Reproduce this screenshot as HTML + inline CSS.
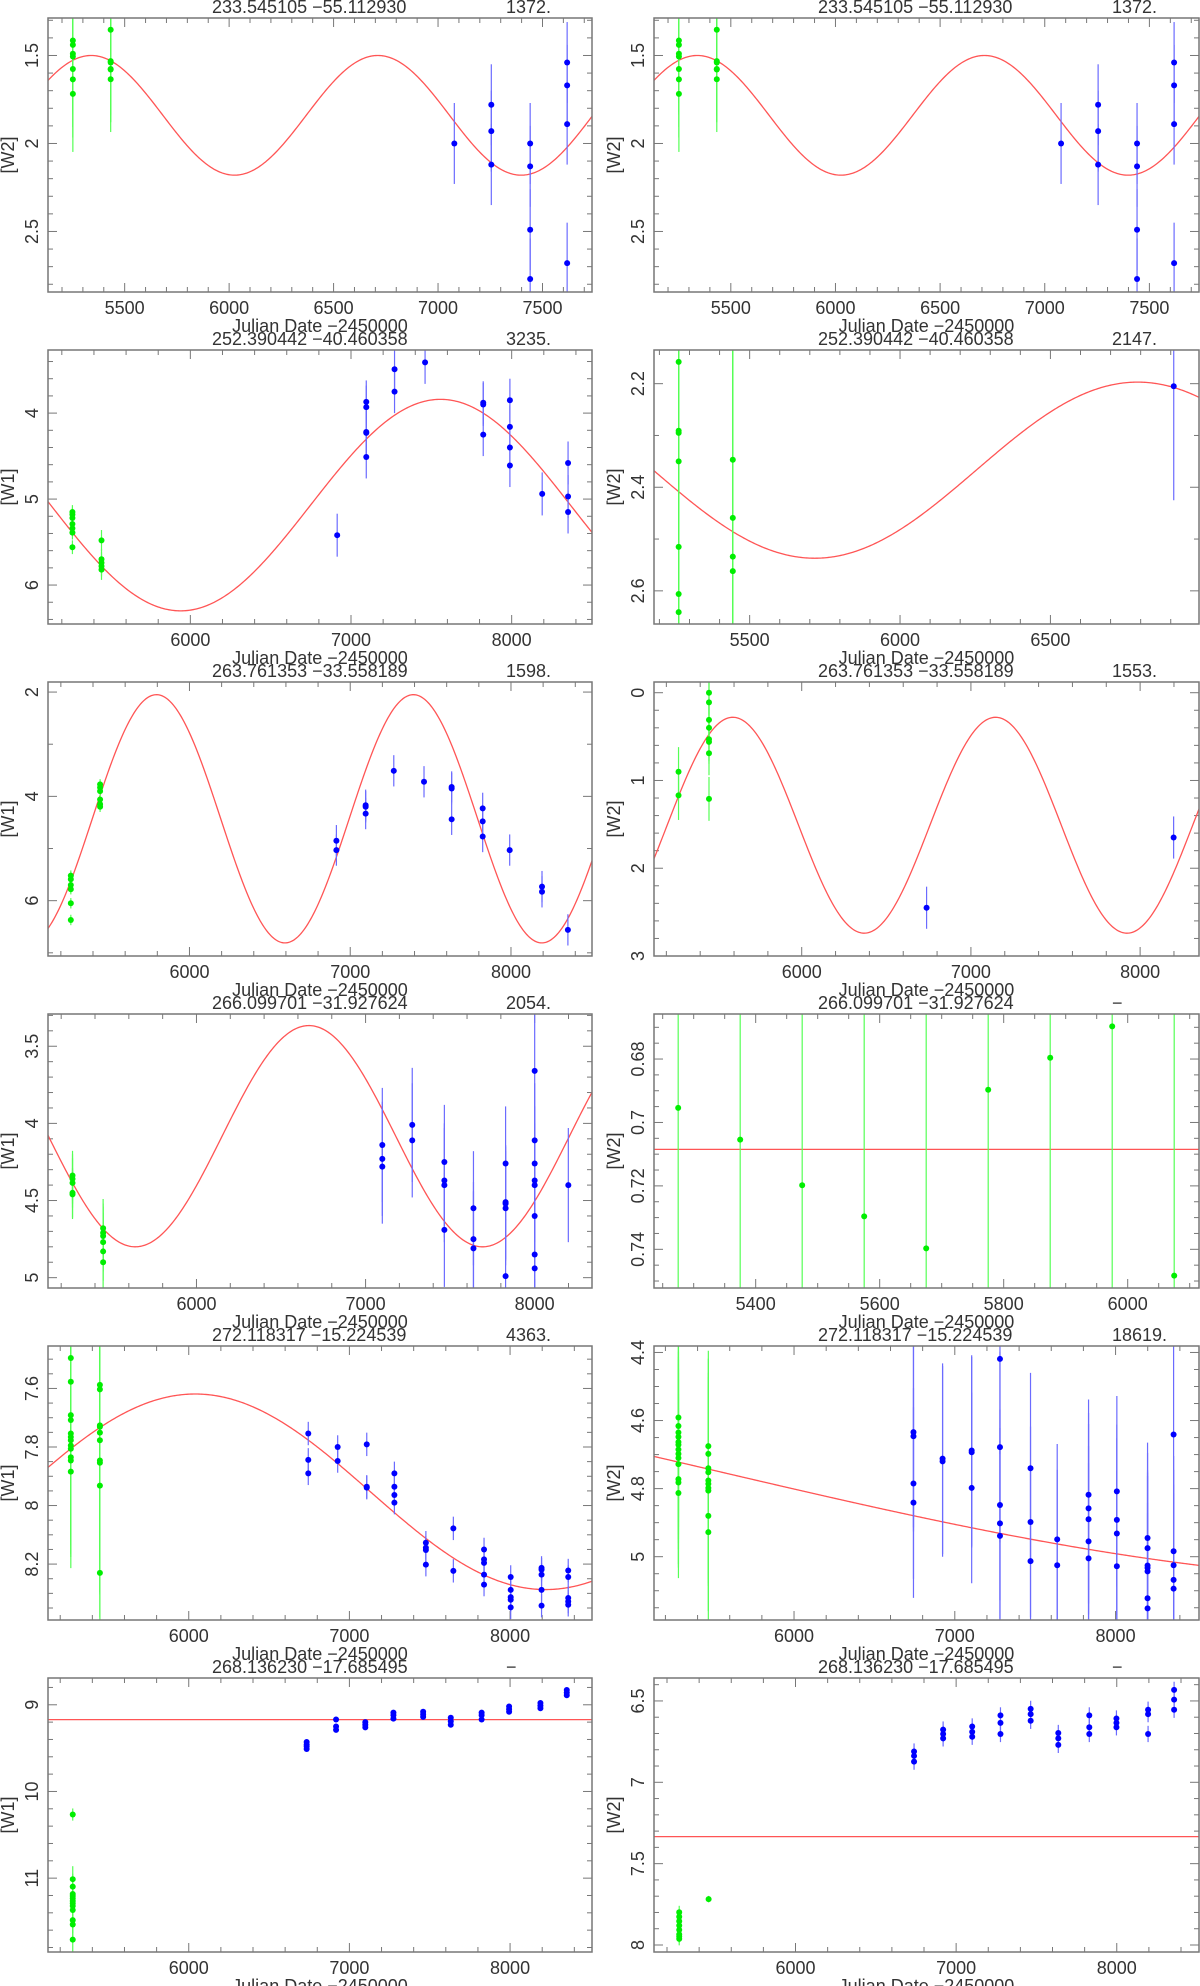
<!DOCTYPE html>
<html><head><meta charset="utf-8">
<style>
html,body{margin:0;padding:0;background:#fff;}
svg{display:block;}
text{font-family:"Liberation Sans","DejaVu Sans",sans-serif;fill:#333;}
</style></head>
<body>
<svg id="chart" width="1200" height="1986" viewBox="0 0 1200 1986" xmlns="http://www.w3.org/2000/svg"></svg>
<script>
// ---------- data (one entry per panel, 12 panels, row-major) ----------
const titleCoords = ["233.545105  \u221255.112930","233.545105  \u221255.112930","252.390442  \u221240.460358","252.390442  \u221240.460358","263.761353  \u221233.558189","263.761353  \u221233.558189","266.099701  \u221231.927624","266.099701  \u221231.927624","272.118317  \u221215.224539","272.118317  \u221215.224539","268.136230  \u221217.685495","268.136230  \u221217.685495"];
const titlePeriod = ["1372.","1372.","3235.","2147.","1598.","1553.","2054.","\u2212","4363.","18619.","\u2212","\u2212"];
const yLabels = ["[W2]","[W2]","[W1]","[W2]","[W1]","[W2]","[W1]","[W2]","[W1]","[W2]","[W1]","[W2]"];
// fitted model: mag = mean - amp*cos(2*pi*(jd - peak)/period)
const fitPeriod = [1372,1372,3235,2147,1598,1553,2054,1,4363,18619,1,1];
const fitMean = [1.84,1.84,5.07,2.367,4.43,1.51,4.083,0.7085,7.953,4.748,9.171,7.334];
const fitAmp = [0.34,0.34,1.23,0.17,2.38,1.23,0.717,0,0.334,0.327,0,0];
const fitPeak = [5340,5340,7557,6790,5795,5593,6665,0,6040,861,0,0];
// axis ranges
const xMin = [5133,5133,5114,5182,5120,5127,5122,5236,5124,5129,5124,5119];
const xMax = [7737,7737,8500,6994,8504,8348,8339,6115,8510,8519,8510,8512];
const yTop = [1.287,1.287,3.266,2.135,1.807,-0.122,3.291,0.6658,7.455,4.381,8.691,6.359];
const yBottom = [2.844,2.844,6.453,2.664,7.061,3.0,5.067,0.7522,8.391,5.186,11.852,8.043];
const xMajor = [500,500,1000,500,1000,1000,1000,200,1000,1000,1000,1000];
const xMinor = [100,100,200,100,200,200,200,50,200,200,200,200];
const yMajor = [0.5,0.5,1,0.2,2,1,0.5,0.02,0.2,0.2,1,0.5];
const yMinor = [0.1,0.1,0.2,0.1,1,0.2,0.1,0.005,0.05,0.05,0.2,0.1];

// green (early epoch) points
const greenJd = [
 [5252,5252,5252,5252,5252,5252,5252,5433,5433,5433,5433,5433,5433],
 [5252,5252,5252,5252,5252,5252,5252,5433,5433,5433,5433,5433,5433],
 [5266,5266,5266,5266,5266,5266,5266,5447,5447,5447,5447,5447],
 [5264,5264,5264,5264,5264,5264,5264,5444,5444,5444,5444],
 [5262,5262,5262,5262,5262,5262,5444,5444,5444,5444,5444,5444],
 [5272,5272,5452,5452,5452,5452,5452,5452,5452,5452],
 [5267,5267,5267,5267,5267,5448,5448,5448,5448,5448,5448],
 [5275,5375,5475,5575,5675,5775,5875,5975,6075],
 [5266,5266,5266,5266,5266,5266,5266,5266,5266,5266,5266,5266,5447,5447,5447,5447,5447,5447,5447,5447,5447,5447],
 [5281,5281,5281,5281,5281,5281,5281,5281,5281,5281,5281,5281,5281,5467,5467,5467,5467,5467,5467,5467,5467,5467,5467],
 [5278,5278,5278,5278,5278,5278,5278,5278,5278,5278,5278,5278,5278],
 [5276,5276,5276,5276,5276,5276,5276,5276,5459]
];
const greenMag = [
 [1.415,1.44,1.49,1.506,1.577,1.636,1.718,1.354,1.532,1.54,1.577,1.58,1.635],
 [1.415,1.44,1.49,1.506,1.577,1.636,1.718,1.354,1.532,1.54,1.577,1.58,1.635],
 [5.15,5.18,5.22,5.29,5.34,5.39,5.56,5.48,5.70,5.74,5.78,5.82],
 [2.158,2.291,2.295,2.35,2.515,2.606,2.641,2.347,2.459,2.534,2.562],
 [5.52,5.59,5.70,5.78,6.05,6.37,3.77,3.83,3.90,4.06,4.15,4.20],
 [0.90,1.17,0.0,0.11,0.31,0.40,0.53,0.56,0.69,1.21],
 [4.338,4.36,4.386,4.45,4.46,4.68,4.71,4.73,4.77,4.83,4.90],
 [0.6954,0.7054,0.7198,0.7296,0.7397,0.6897,0.6796,0.6697,0.7483],
 [7.496,7.577,7.691,7.708,7.754,7.766,7.777,7.795,7.806,7.835,7.846,7.884,7.588,7.603,7.726,7.731,7.751,7.777,7.846,7.854,7.932,8.230],
 [4.591,4.616,4.635,4.648,4.663,4.671,4.685,4.698,4.71,4.728,4.772,4.782,4.813,4.675,4.698,4.74,4.752,4.776,4.786,4.798,4.806,4.88,4.928],
 [10.266,11.012,11.098,11.183,11.206,11.233,11.264,11.291,11.322,11.368,11.484,11.535,11.709],
 [7.799,7.826,7.853,7.88,7.907,7.935,7.948,7.962,7.718]
];
const greenErr = [
 [0.33,0.33,0.33,0.33,0.33,0.33,0.33,0.3,0.3,0.3,0.3,0.3,0.3],
 [0.33,0.33,0.33,0.33,0.33,0.33,0.33,0.3,0.3,0.3,0.3,0.3,0.3],
 [0.08,0.08,0.08,0.08,0.08,0.08,0.08,0.12,0.12,0.12,0.12,0.12],
 [0.5,0.5,0.5,0.5,0.5,0.5,0.5,0.5,0.5,0.5,0.5],
 [0.1,0.1,0.1,0.1,0.1,0.1,0.1,0.1,0.1,0.1,0.1,0.1],
 [0.28,0.28,0.25,0.25,0.25,0.25,0.25,0.25,0.25,0.25],
 [0.16,0.16,0.16,0.16,0.16,0.19,0.19,0.19,0.19,0.19,0.19],
 [0.1,0.1,0.1,0.1,0.1,0.1,0.1,0.1,0.1],
 [0.33,0.33,0.33,0.33,0.33,0.33,0.33,0.33,0.33,0.33,0.33,0.33,0.45,0.45,0.45,0.45,0.45,0.45,0.45,0.45,0.45,0.45],
 [0.25,0.25,0.25,0.25,0.25,0.25,0.25,0.25,0.25,0.25,0.25,0.25,0.25,0.28,0.28,0.28,0.28,0.28,0.28,0.28,0.28,0.28,0.28],
 [0.07,0.15,0.15,0.15,0.15,0.15,0.15,0.15,0.15,0.15,0.15,0.15,0.15],
 [0.04,0.04,0.04,0.04,0.04,0.04,0.04,0.04,0.02]
];
// blue (later epoch) points
const blueJd = [
 [7078,7255,7255,7255,7441,7441,7441,7441,7618,7618,7618,7618],
 [7078,7255,7255,7255,7441,7441,7441,7441,7618,7618,7618,7618],
 [6914,7095,7095,7095,7095,7095,7271,7271,7461,7823,7823,7823,7989,7989,7989,7989,8190,8351,8351,8351],
 [6910],
 [6914,6914,7096,7096,7096,7271,7459,7631,7631,7631,7824,7824,7824,7992,8193,8193,8354],
 [6738,8198],
 [7099,7099,7099,7276,7276,7466,7466,7466,7466,7638,7638,7638,7828,7828,7828,7828,7828,8000,8000,8000,8000,8000,8000,8000,8000,8199],
 [],
 [6744,6744,6744,6927,6927,7108,7108,7108,7280,7280,7280,7280,7476,7476,7476,7476,7647,7647,7838,7838,7838,7838,7838,8004,8004,8004,8004,8004,8196,8196,8196,8196,8196,8362,8362,8362,8362,8362],
 [6743,6743,6743,6743,6924,6924,7105,7105,7105,7281,7281,7281,7281,7281,7471,7471,7471,7637,7637,7832,7832,7832,7832,7832,8008,8008,8008,8008,8199,8199,8199,8199,8199,8199,8199,8361,8361,8361,8361,8361],
 [6734,6734,6734,6734,6917,6917,6917,7099,7099,7099,7274,7274,7274,7459,7459,7459,7631,7631,7631,7823,7823,7823,7994,7994,7994,8189,8189,8189,8353,8353,8353],
 [6738,6738,6738,6919,6919,6919,7100,7100,7100,7276,7276,7276,7464,7464,7464,7636,7636,7636,7829,7829,7829,7998,7998,7998,8195,8195,8195,8357,8357,8357]
];
const blueMag = [
 [2.0,1.78,1.93,2.12,2.0,2.13,2.49,2.77,1.54,1.67,1.89,2.68],
 [2.0,1.78,1.93,2.12,2.0,2.13,2.49,2.77,1.54,1.67,1.89,2.68],
 [5.42,3.87,3.93,4.22,4.23,4.51,3.49,3.75,3.41,3.88,3.90,4.25,3.85,4.16,4.40,4.61,4.94,4.58,4.97,5.15],
 [2.205],
 [4.85,5.03,4.17,4.20,4.33,3.51,3.72,3.82,3.85,4.44,4.23,4.48,4.77,5.03,5.73,5.83,6.56],
 [2.45,1.65],
 [4.14,4.23,4.28,4.01,4.11,4.25,4.37,4.40,4.69,4.55,4.75,4.81,4.26,4.51,4.52,4.55,4.99,3.66,4.11,4.26,4.37,4.40,4.60,4.85,4.94,4.40],
 [],
 [7.754,7.844,7.890,7.800,7.848,7.791,7.936,7.939,7.890,7.936,7.964,7.990,8.127,8.144,8.152,8.202,8.078,8.223,8.150,8.184,8.196,8.236,8.270,8.244,8.288,8.313,8.322,8.348,8.213,8.219,8.236,8.288,8.342,8.222,8.244,8.316,8.328,8.339],
 [4.634,4.646,4.785,4.841,4.712,4.72,4.688,4.693,4.798,4.419,4.678,4.848,4.902,4.939,4.74,4.898,5.013,4.949,5.025,4.818,4.858,4.89,4.955,5.005,4.808,4.892,4.932,5.028,4.945,4.975,5.026,5.033,5.043,5.122,5.152,4.641,4.984,5.025,5.068,5.094],
 [9.43,9.46,9.48,9.51,9.17,9.25,9.29,9.20,9.23,9.26,9.09,9.12,9.16,9.08,9.11,9.14,9.15,9.19,9.23,9.09,9.12,9.17,9.02,9.05,9.08,8.98,9.01,9.04,8.83,8.86,8.89],
 [6.811,6.838,6.873,6.676,6.703,6.73,6.657,6.69,6.72,6.589,6.635,6.703,6.549,6.581,6.622,6.697,6.73,6.77,6.589,6.662,6.703,6.608,6.635,6.662,6.554,6.581,6.703,6.432,6.492,6.554]
];
const blueErrGroup = [0.23,0.23,0.25,0.22,0.3,0.24,0.37,0,0.04,0.28,0.03,0.05];
</script>
<script>
const svg = document.getElementById('chart');
const NS = 'http://www.w3.org/2000/svg';
function mk(tag, attrs, parent){
  const e = document.createElementNS(NS, tag);
  for (const k in attrs) e.setAttribute(k, attrs[k]);
  (parent||svg).appendChild(e);
  return e;
}
function fmt(v){ return String(Number(v.toFixed(4))); }
const H = 274;
const panelLeft = [48, 654];
const panelWidth = [544, 545];

for (let p = 0; p < 12; p++) {
  const col = p % 2, row = Math.floor(p / 2);
  const L = panelLeft[col], W = panelWidth[col], T = 18 + 332 * row;
  const g = mk('g', {});
  
  
  const sx = x => L + (x - xMin[p]) / (xMax[p] - xMin[p]) * W;
  const sy = y => T + (y - yTop[p]) / (yBottom[p] - yTop[p]) * H;

  const clipId = 'clip' + p;
  const cp = mk('clipPath', {id: clipId}, g);
  mk('rect', {x: L, y: T, width: W, height: H}, cp);

  const tg = mk('g', {stroke: '#777', 'stroke-width': 1}, g);
  
  
  const x0 = Math.ceil(xMin[p] / xMinor[p]) * xMinor[p];
  for (let v = x0; v <= xMax[p] + 1e-9; v += xMinor[p]) {
    const major = Math.abs(v / xMajor[p] - Math.round(v / xMajor[p])) < 1e-6;
    const len = major ? 9 : 5, X = sx(v);
    mk('line', {x1: X, x2: X, y1: T + H, y2: T + H - len}, tg);
    mk('line', {x1: X, x2: X, y1: T, y2: T + len}, tg);
    if (major) {
      const t = mk('text', {x: X, y: T + H + 22, 'text-anchor': 'middle', 'font-size': 18}, g);
      t.textContent = fmt(v);
      
      
    }
  }
  const y0 = Math.ceil(yTop[p] / yMinor[p] - 1e-6) * yMinor[p];
  for (let v = y0; v <= yBottom[p] + 1e-9; v += yMinor[p]) {
    const major = Math.abs(v / yMajor[p] - Math.round(v / yMajor[p])) < 1e-6;
    const len = major ? 9 : 5, Y = sy(v);
    mk('line', {x1: L, x2: L + len, y1: Y, y2: Y}, tg);
    mk('line', {x1: L + W, x2: L + W - len, y1: Y, y2: Y}, tg);
    if (major) {
      const t = mk('text', {x: L - 10, y: Y, 'text-anchor': 'middle', 'font-size': 18,
        transform: 'rotate(-90 ' + (L - 10) + ' ' + Y + ')'}, g);
      t.textContent = fmt(Math.round(v / yMajor[p]) * yMajor[p]);
      
      
    }
  }

  const plot = mk('g', {'clip-path': 'url(#' + clipId + ')'}, g);
  
  

  let d = '';
  for (let i = 0; i <= 400; i++) {
    const x = xMin[p] + (xMax[p] - xMin[p]) * i / 400;
    const m = fitMean[p] - fitAmp[p] * Math.cos(2 * Math.PI * (x - fitPeak[p]) / fitPeriod[p]);
    d += (i ? 'L' : 'M') + sx(x).toFixed(2) + ' ' + sy(m).toFixed(2);
  }
  const fit = mk('path', {d: d, fill: 'none', stroke: '#ff5555', 'stroke-width': 1.3}, plot);
  
  

  for (let i = 0; i < greenJd[p].length; i++) {
    const X = sx(greenJd[p][i]);
    const eb = mk('line', {x1: X, x2: X, y1: sy(greenMag[p][i] - greenErr[p][i]), y2: sy(greenMag[p][i] + greenErr[p][i]), stroke: '#55ff55', 'stroke-width': 1.2}, plot);
    
    
  }
  for (let i = 0; i < greenJd[p].length; i++) {
    const c = mk('circle', {cx: sx(greenJd[p][i]), cy: sy(greenMag[p][i]), r: 3, fill: '#00ee00'}, plot);
    
    
  }
  for (let i = 0; i < blueJd[p].length; i++) {
    const X = sx(blueJd[p][i]);
    const eb = mk('line', {x1: X, x2: X, y1: sy(blueMag[p][i] - blueErrGroup[p]), y2: sy(blueMag[p][i] + blueErrGroup[p]), stroke: '#6b6bff', 'stroke-width': 1.2}, plot);
    
    
  }
  for (let i = 0; i < blueJd[p].length; i++) {
    const c = mk('circle', {cx: sx(blueJd[p][i]), cy: sy(blueMag[p][i]), r: 3, fill: '#0000ff'}, plot);
    
    
  }

  const fr = mk('rect', {x: L, y: T, width: W, height: H, fill: 'none', stroke: '#777', 'stroke-width': 1.5}, g);
  
  

  const t1 = mk('text', {x: L + 164, y: T - 5, 'font-size': 18, 'xml:space': 'preserve'}, g);
  t1.textContent = titleCoords[p];
  
  
  const t2 = mk('text', {x: L + 458, y: T - 5, 'font-size': 18}, g);
  t2.textContent = titlePeriod[p];
  
  
  const xl = mk('text', {x: L + W / 2, y: T + H + 40, 'text-anchor': 'middle', 'font-size': 18}, g);
  xl.textContent = 'Julian Date \u22122450000';
  
  
  const yx = L - 34, yy = T + H / 2;
  const yl = mk('text', {x: yx, y: yy, 'text-anchor': 'middle', 'font-size': 18, transform: 'rotate(-90 ' + yx + ' ' + yy + ')'}, g);
  yl.textContent = yLabels[p];
  
  
}
</script>
</body></html>
